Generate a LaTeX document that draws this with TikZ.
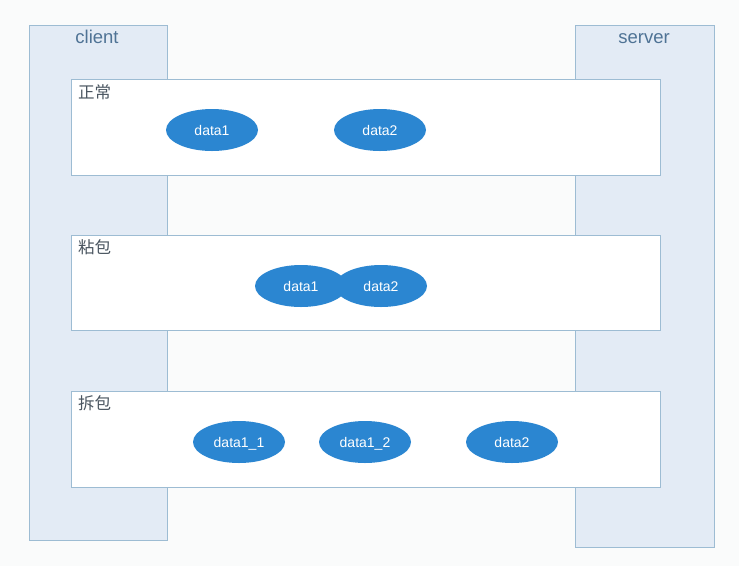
\documentclass[tikz,border=0pt]{standalone}
\usepackage{fontspec}
\setmainfont{Liberation Sans}
\newfontfamily\cjk{Noto Sans CJK SC}
\usetikzlibrary{shapes.geometric}
\definecolor{bgc}{HTML}{FAFBFB}
\definecolor{sidefill}{HTML}{E3EBF5}
\definecolor{edgec}{HTML}{9DBCD3}
\definecolor{blobc}{HTML}{2B86D1}
\definecolor{sidetext}{HTML}{4F7395}
\definecolor{cjktext}{HTML}{4A5560}
\tikzset{
  sidebox/.style={draw=edgec, fill=sidefill, line width=0.9pt},
  rowbox/.style={draw=edgec, fill=white, line width=0.9pt},
  blob/.style={ellipse, fill=blobc, minimum width=92pt, minimum height=42pt, inner sep=0pt, text=white, text height=10pt, text depth=0pt, font=\fontsize{14}{16}\selectfont},
  sidelabel/.style={text=sidetext, anchor=base, font=\fontsize{18.5}{22}\selectfont},
  rowlabel/.style={text=cjktext, anchor=west, inner sep=0pt, font=\cjk\fontsize{16.5}{19}\selectfont}
}
\begin{document}
\begin{tikzpicture}[x=1pt,y=-1pt]
\fill[bgc] (0,0) rectangle (739,566);
\useasboundingbox (0,0) rectangle (739,566);
\draw[sidebox] (29,25) rectangle (167,540);
\draw[sidebox] (575,25) rectangle (714,547);
\node[sidelabel] (client) at (97,43) {client};
\node[sidelabel] (server) at (644,43) {server};
\draw[rowbox] (71,79) rectangle (660,175);
\draw[rowbox] (71,235) rectangle (660,330);
\draw[rowbox] (71,391) rectangle (660,487);
\node[rowlabel] (l1) at (78,92) {正常};
\node[rowlabel] (l2) at (78,247) {粘包};
\node[rowlabel] (l3) at (78,403) {拆包};
\node[blob] (a1) at (212,130) {data1};
\node[blob] (a2) at (380,130) {data2};
\node[blob] (b1) at (301,286) {data1};
\node[blob] (b2) at (381,286) {data2};
\node[blob] (c1) at (239,442) {data1\_1};
\node[blob] (c2) at (365,442) {data1\_2};
\node[blob] (c3) at (512,442) {data2};
\end{tikzpicture}
\end{document}
